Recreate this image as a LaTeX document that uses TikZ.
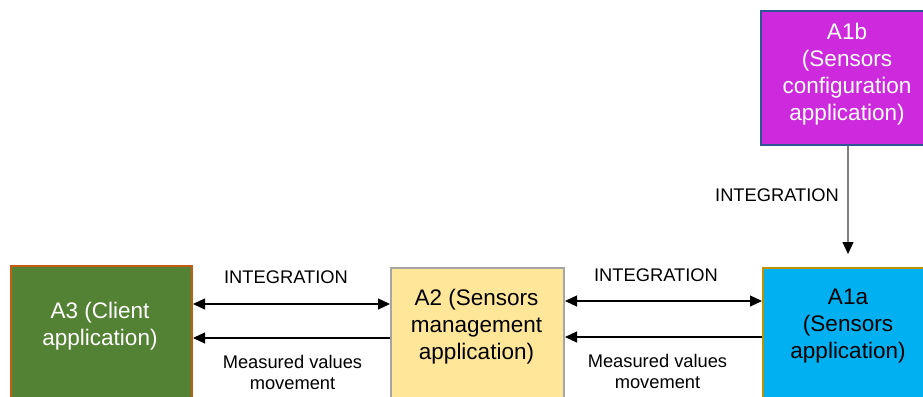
\documentclass[tikz,border=0pt]{standalone}
\usepackage{fontspec}
\setmainfont{Liberation Sans}
\usetikzlibrary{arrows.meta}
\definecolor{clientgreen}{HTML}{548235}
\definecolor{clientedge}{HTML}{C55A11}
\definecolor{mgmtyellow}{HTML}{FFE699}
\definecolor{mgmtedge}{HTML}{A5A5A5}
\definecolor{sensorblue}{HTML}{00B0F0}
\definecolor{sensoredge}{HTML}{BF9000}
\definecolor{configpurple}{HTML}{CC2ADC}
\definecolor{configedge}{HTML}{2F5597}
\definecolor{linkgray}{HTML}{808080}
\tikzset{
  appbox/.style={draw, line width=2pt, anchor=north west, inner sep=0pt},
  apptext/.style={align=center, font=\fontsize{22.5}{27}\selectfont},
  linklabel/.style={align=center, font=\fontsize{18.3}{21}\selectfont},
  oneway/.style={line width=1.2pt, -{Triangle[length=12pt,width=11pt,color=black]}},
  twoway/.style={line width=1.2pt, {Triangle[length=12pt,width=11pt]}-{Triangle[length=12pt,width=11pt]}},
}
\begin{document}
\begin{tikzpicture}[x=1pt,y=-1pt]
\useasboundingbox (0,0) rectangle (923,396);
\clip (0,0) rectangle (923,396);
% application boxes
\node[appbox, fill=clientgreen, draw=clientedge, minimum width=181pt, minimum height=160pt] (a3) at (10,265) {};
\node[appbox, fill=mgmtyellow, draw=mgmtedge, minimum width=173pt, minimum height=160pt] (a2) at (390,267) {};
\node[appbox, fill=sensorblue, draw=sensoredge, minimum width=172pt, minimum height=160pt] (a1a) at (762,267) {};
\node[appbox, fill=configpurple, draw=configedge, minimum width=175pt, minimum height=134pt] (a1b) at (760,10) {};
\node[apptext, text=white] (a3txt) at (100,326.5) {A3 (Client\\application)};
\node[apptext] (a2txt) at (476.5,327) {A2 (Sensors\\management\\application)};
\node[apptext] (a1atxt) at (848,326) {A1a\\(Sensors\\application)};
\node[apptext, text=white] (a1btxt) at (847,74) {A1b\\(Sensors\\configuration\\application)};
% connectors
\draw[twoway] (a3.east |- 0,304) -- (a2.west |- 0,304);
\draw[oneway] (a2.west |- 0,338) -- (a3.east |- 0,338);
\draw[twoway] (a2.east |- 0,301) -- (a1a.west |- 0,301);
\draw[oneway] (a1a.west |- 0,337) -- (a2.east |- 0,337);
\draw[oneway, draw=linkgray, shorten >=13pt] (a1b.south -| 848,0) -- (a1a.north -| 848,0);
% labels
\node[linklabel] (int32) at (286,277) {INTEGRATION};
\node[linklabel] (meas32) at (292.5,372.5) {Measured values\\movement};
\node[linklabel] (int21) at (656,275) {INTEGRATION};
\node[linklabel] (meas21) at (657.5,371.5) {Measured values\\movement};
\node[linklabel] (int11) at (777,195) {INTEGRATION};
\end{tikzpicture}
\end{document}
